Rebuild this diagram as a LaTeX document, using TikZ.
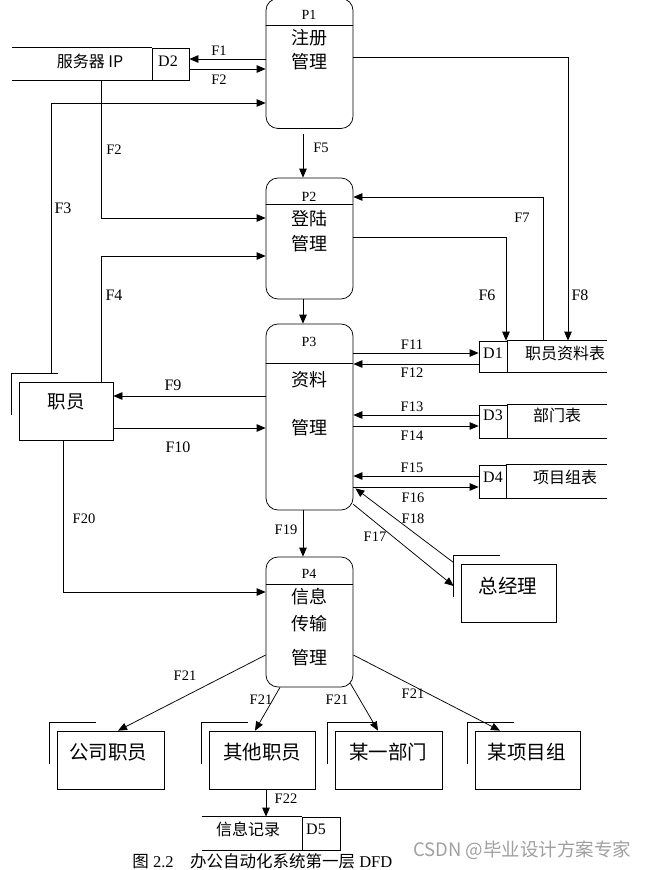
\documentclass[tikz,border=0pt]{standalone}
\usepackage{fontspec}
\setmainfont{Liberation Serif}
\newfontfamily\cjk{Noto Sans CJK SC}
\usetikzlibrary{arrows.meta}
\definecolor{wmgray}{RGB}{160,160,160}

\tikzset{
  proc/.style={draw, rounded corners=12pt, minimum width=87pt, inner sep=0pt},
  ent/.style={draw, inner sep=0pt, minimum height=58pt},
  cell/.style={draw, inner sep=0pt},
  slot/.style={inner sep=0pt},
  flow/.style={font=\fontsize{14.5}{15}\selectfont, inner sep=0pt},
  flowb/.style={font=\fontsize{16}{17}\selectfont, inner sep=0pt},
  ptag/.style={font=\fontsize{14}{15}\selectfont, inner sep=0pt},
  ptext/.style={font=\cjk\fontsize{18}{20}\selectfont, inner sep=0pt},
  etext/.style={font=\cjk\fontsize{19.5}{21}\selectfont, inner sep=0pt},
  stext/.style={font=\cjk\fontsize{16}{17}\selectfont, inner sep=0pt},
  sid/.style={font=\fontsize{16}{17}\selectfont, inner sep=0pt}
}

\begin{document}
\begin{tikzpicture}[x=1pt,y=-1pt,>={Triangle[length=9pt,width=7.5pt]},line width=0.75pt]
    \useasboundingbox (0,0) rectangle (658,870);
    % processes
    \node[proc, minimum height=130pt] (p1) at (309.5,63.5) {};
    \node[proc, minimum height=121pt] (p2) at (309.5,238.5) {};
    \node[proc, minimum height=186pt] (p3) at (309.5,417) {};
    \node[proc, minimum height=130pt] (p4) at (309.5,622) {};
    \foreach \p/\y in {p1/25,p2/204,p3/363,p4/584}
        \draw (\p.west |- 0,\y) -- (\p.east |- 0,\y);
    \node[ptag] (p1id) at (309,15) {P1};
    \node[ptag] (p2id) at (309,197) {P2};
    \node[ptag] (p3id) at (309,342) {P3};
    \node[ptag] (p4id) at (309,574) {P4};
    \node[ptext] (p1a) at (309.5,38) {注册};
    \node[ptext] (p1b) at (309.5,62) {管理};
    \node[ptext] (p2a) at (309.5,219) {登陆};
    \node[ptext] (p2b) at (309.5,244) {管理};
    \node[ptext] (p3a) at (309.5,380) {资料};
    \node[ptext] (p3b) at (309.5,428) {管理};
    \node[ptext] (p4a) at (309.5,597) {信息};
    \node[ptext] (p4b) at (309.5,624) {传输};
    \node[ptext] (p4c) at (309.5,658) {管理};

    % external entities
    \node[ent, minimum width=94pt] (zy) at (66,411) {};
    \node[ent, minimum width=107pt] (gs) at (110.5,760) {};
    \node[ent, minimum width=106pt] (qt) at (262,760) {};
    \node[ent, minimum width=107pt] (mb) at (388.5,760) {};
    \node[ent, minimum width=105pt] (xm) at (527.5,760) {};
    \node[ent, minimum width=95pt] (zj) at (508.5,593) {};
    \foreach \e in {zy,gs,qt,mb,xm,zj}
        \draw ([shift={(-7pt,8pt)}]\e.north west) ++(0,41) -- ++(0,-41) -- ++(46,0);
    \node[etext, font=\cjk\fontsize{18.5}{20}\selectfont] (zyt) at (66,402) {职员};
    \node[etext] (gst) at (108,752) {公司职员};
    \node[etext] (qtt) at (262,752) {其他职员};
    \node[etext] (mbt) at (388,752) {某一部门};
    \node[etext] (xmt) at (526.5,752) {某项目组};
    \node[etext] (zjt) at (508,586) {总经理};

    % data stores
    \node[cell, minimum width=37pt, minimum height=32pt] (d2) at (170.5,64) {};
    \node[cell, minimum width=28pt, minimum height=31pt] (d1) at (493,356.5) {};
    \node[cell, minimum width=28pt, minimum height=33pt] (d3) at (493,421.5) {};
    \node[cell, minimum width=27pt, minimum height=33pt] (d4) at (492.5,481.5) {};
    \node[cell, minimum width=38pt, minimum height=33pt] (d5) at (321,833.5) {};
    \node[slot, minimum width=140pt, minimum height=32pt] (d2n) at (82,64) {};
    \node[slot, minimum width=100pt, minimum height=31pt] (d1n) at (557,356.5) {};
    \node[slot, minimum width=100pt, minimum height=33pt] (d3n) at (557,421.5) {};
    \node[slot, minimum width=101pt, minimum height=33pt] (d4n) at (556.5,481.5) {};
    \node[slot, minimum width=100pt, minimum height=33pt] (d5n) at (252,833.5) {};
    \foreach \s in {d1n,d2n,d3n,d4n,d5n}
        \draw (\s.north west) -- (\s.north east) (\s.south west) -- (\s.south east);
    \node[sid] (d2id) at (168,61) {D2};
    \node[sid] (d1id) at (493,353) {D1};
    \node[sid] (d3id) at (493,415) {D3};
    \node[sid] (d4id) at (493,477) {D4};
    \node[sid] (d5id) at (316,829) {D5};
    \node[stext] (d2t) at (90,61) {服务器 IP};
    \node[stext] (d1t) at (565,353) {职员资料表};
    \node[stext] (d3t) at (557,415) {部门表};
    \node[stext] (d4t) at (565,477) {项目组表};
    \node[stext] (d5t) at (248,829) {信息记录};

    % data flows
    \coordinate (f3s) at (51,374);
    \draw [->] (p1.west |- 0,59) -- (d2.east |- 0,59);
    \draw [->] (d2.east |- 0,69) -- (p1.west |- 0,69);
    \draw [->] (f3s) |- (p1.west |- 0,103);
    \draw [->] (d2n.south -| 101,0) |- (p2.west |- 0,218);
    \draw [->] (zy.north -| 101,0) |- (p2.west |- 0,256);
    \draw [->] ([yshift=-5pt]p1.south -| 303,0) -- (p2.north -| 303,0);
    \draw [->] (p2.south -| 303,0) -- (p3.north -| 303,0);
    \draw [->] (p2.east |- 0,237) -| (d1.north -| 506,0);
    \draw [->] (d1n.north -| 543,0) |- (p2.east |- 0,197);
    \draw [->] (p1.east |- 0,57) -| (d1n.north -| 568,0);
    \draw [->] (p3.west |- 0,396) -- (zy.east |- 0,396);
    \draw [->] (zy.east |- 0,428) -- (p3.west |- 0,428);
    \draw [->] (p3.east |- 0,353) -- (d1.west |- 0,353);
    \draw [->] (d1.west |- 0,364) -- (p3.east |- 0,364);
    \draw [->] (d3.west |- 0,415) -- (p3.east |- 0,415);
    \draw [->] (p3.east |- 0,426) -- (d3.west |- 0,426);
    \draw [->] (d4.west |- 0,476) -- (p3.east |- 0,476);
    \draw [->] (p3.east |- 0,487) -- (d4.west |- 0,487);
    \draw [->] ([yshift=6pt]p3.south east) -- ([shift={(-7pt,7pt)}]zj.west);
    \draw [->] ([shift={(-7pt,1pt)}]zj.north west) -- ([shift={(2pt,22pt)}]p3.south east);
    \draw [->] (p3.south -| 303,0) -- (p4.north -| 303,0);
    \draw [->] (zy.south -| 63,0) |- (p4.west |- 0,592);
    \draw [->] (p4.west |- 0,655) -- (gs.north -| 118,0);
    \draw [->] (p4.south -| 280,0) -- (qt.north -| 255,0);
    \draw [->] ([shift={(-3pt,4pt)}]p4.south east) -- (mb.north -| 378,0);
    \draw [->] (p4.east |- 0,655) -- (xm.north -| 500,0);
    \draw [->] (qt.south -| 266,0) -- (d5n.north -| 266,0);

    % flow labels
    \node[flow] (lf1) at (219,51) {F1};
    \node[flow] (lf2a) at (219,80) {F2};
    \node[flow] (lf2b) at (114,150) {F2};
    \node[flowb] (lf3) at (63,208) {F3};
    \node[flowb] (lf4) at (114,295) {F4};
    \node[flow] (lf5) at (321,148) {F5};
    \node[flowb] (lf6) at (487,295) {F6};
    \node[flow] (lf7) at (522,218) {F7};
    \node[flowb] (lf8) at (580,295) {F8};
    \node[flowb] (lf9) at (173,385) {F9};
    \node[flowb] (lf10) at (178,447) {F10};
    \node[flow] (lf11) at (412,345) {F11};
    \node[flow] (lf12) at (412,373) {F12};
    \node[flow] (lf13) at (412,407) {F13};
    \node[flow] (lf14) at (412,436) {F14};
    \node[flow] (lf15) at (412,468) {F15};
    \node[flow] (lf16) at (413,498) {F16};
    \node[flow] (lf18) at (413,519) {F18};
    \node[flow] (lf17) at (375,537) {F17};
    \node[flow] (lf19) at (286,530) {F19};
    \node[flow] (lf20) at (84,519) {F20};
    \node[flow] (lf21a) at (185,676) {F21};
    \node[flow] (lf21b) at (261,700) {F21};
    \node[flow] (lf21c) at (337,700) {F21};
    \node[flow] (lf21d) at (413,694) {F21};
    \node[flow] (lf22) at (286,799) {F22};

    % caption and mark
    \node[inner sep=0pt, anchor=west, font=\fontsize{16.5}{18}\selectfont] (cap) at (132,861)
        {{\cjk 图} 2.2\hspace{1em}{\cjk 办公自动化系统第一层} DFD};
    \node[inner sep=0pt, anchor=west, text=wmgray, font=\cjk\fontsize{18.5}{20}\selectfont] (mark) at (413,850)
        {CSDN @毕业设计方案专家};
\end{tikzpicture}
\end{document}
